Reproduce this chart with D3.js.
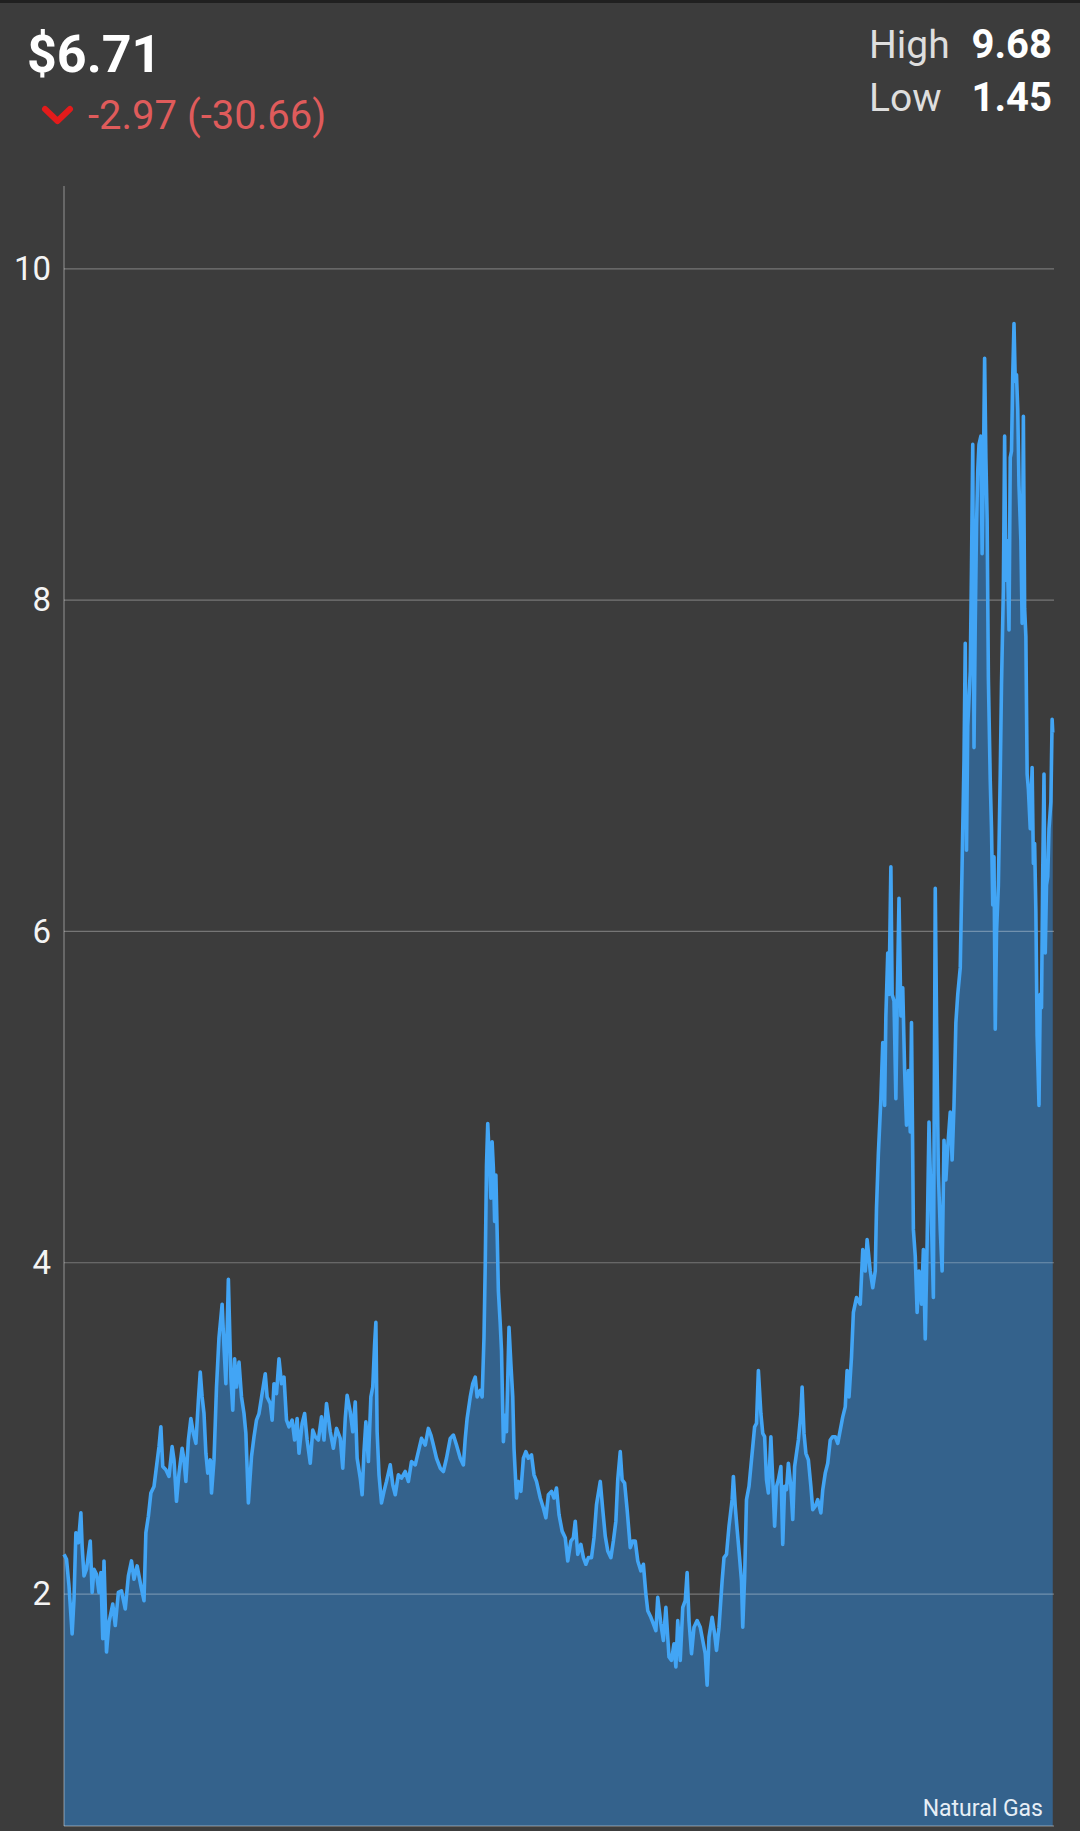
<!DOCTYPE html>
<html><head><meta charset="utf-8">
<script src="https://cdn.jsdelivr.net/npm/d3@7"></script>
<style>html,body{margin:0;padding:0;background:#3c3c3c;} svg{display:block;font-family:Roboto,'Noto Sans',sans-serif;}</style>
</head><body><svg id="c" width="1080" height="1831"></svg>
<script>
// trading-day index of each sample
const days = [0,4,8,13,16,19,23,27,29,32,36,42,45,48,52,56,59,62,64,68,72,78,82,87,92,98,103,108,112,117,123,128,131,135,139,144,148,152,155,158,163,168,173,176,180,184,189,192,195,199,203,207,211,215,218,221,224,227,230,234,236,240,244,248,253,256,259,263,267,270,273,276,280,284,288,291,295,300,304,308,312,317,322,325,330,333,336,340,344,348,352,356,360,365,369,373,376,381,385,389,394,398,402,407,412,416,420,
426,431,436,442,446,450,453,458,462,466,469,474,477,480,483,487,491,494,497,499,501,504,508,512,516,522,526,530,535,540,546,551,556,562,567,572,578,583,587,591,596,602,607,612,618,623,628,634,639,642,645,650,654,658,661,666,669,672,674,676,678,680,683,685,687,689,691,693,695,698,700,703,706,708,712,715,718,720,724,727,731,735,739,743,748,752,756,762,767,771,775,780,784,788,792,797,802,806,811,815,818,822,827,831,835,839,844,848,852,858,
862,866,870,875,879,883,886,890,893,897,901,906,910,914,918,923,927,931,934,939,943,947,950,955,959,963,968,972,976,979,982,986,990,994,997,1000,1004,1008,1013,1018,1022,1026,1029,1032,1037,1041,1044,1048,1053,1056,1060,1064,1069,1071,1074,1077,1080,1084,1086,1089,1092,1096,1101,1105,1108,1111,1115,1118,1121,1124,1127,1131,1134,1137,1140,1143,1147,1150,1153,1156,1159,1163,1166,1169,1172,1175,1179,1181,1184,1187,1191,1195,1198,1202,1206,1211,1214,1218,1222,1226,1230,1234,1238,1242,1246,1250,1253,1256,1260,
1263,1268,1274,1278,1282,1285,1290,1294,1298,1300,1303,1307,1310,1313,1315,1318,1320,1323,1325,1328,1331,1333,1336,1339,1342,1345,1348,1351,1354,1356,1359,1362,1365,1368,1372,1375,1378,1381,1384,1388,1391,1394,1396,1399,1402,1405,1408,1411,1414,1418,1421,1424,1427,1430,1434,1437,1440,1442,1444,1446,1450,1452,1454,1456,1458,1460,1462,1464,1467,1469,1471,1473,1475,1477,1479,1482,1484,1486,1488,1490,1492,1495,1498,1500,1503,1505,1507,1509,1512,1514,1516,1518,1520,1522,1524,1526,1528,1531,1533,1535,1537,1539,1541,1543,1546,1549,1551,1553,1555,1557,1560,1562,1564,1566,1568,1570,1572,1574,1576,1579,1581,1582];
// price of each sample
const prices = [2.24,2.21,2.05,1.76,1.97,2.37,2.31,2.49,2.29,2.11,2.15,2.32,2.01,2.15,2.12,2.01,2.13,1.73,2.20,1.65,1.83,1.94,1.81,2.01,2.02,1.91,2.11,2.20,2.09,2.17,2.05,1.96,2.37,2.47,2.61,2.65,2.77,2.89,3.01,2.77,2.75,2.71,2.89,2.81,2.56,2.73,2.88,2.81,2.68,2.93,3.06,2.97,2.91,3.17,3.34,3.19,3.09,2.85,2.73,2.81,2.61,2.81,3.25,3.55,3.75,3.49,3.27,3.90,3.31,3.11,3.42,3.25,3.40,3.19,3.09,2.97,2.55,2.83,2.95,3.05,3.09,3.21,3.33,3.19,3.15,3.05,3.27,3.21,3.42,3.27,3.31,3.05,3.01,3.05,2.93,3.06,2.85,3.03,3.09,2.93,2.79,2.99,2.95,2.93,3.07,2.93,3.15,
2.98,2.88,3.00,2.94,2.76,3.06,3.20,3.10,2.98,3.16,2.82,2.70,2.60,2.86,3.04,2.80,3.19,3.25,3.51,3.64,2.98,2.72,2.55,2.62,2.68,2.78,2.66,2.60,2.72,2.70,2.74,2.68,2.80,2.78,2.86,2.94,2.90,3.00,2.96,2.90,2.82,2.76,2.74,2.82,2.94,2.96,2.90,2.82,2.78,2.94,3.06,3.19,3.27,3.31,3.19,3.23,3.19,3.55,3.99,4.59,4.84,4.67,4.39,4.73,4.57,4.25,4.53,4.19,3.83,3.63,3.47,2.92,3.08,2.98,3.61,3.39,3.19,2.88,2.58,2.68,2.62,2.82,2.86,2.82,2.84,2.72,2.68,2.58,2.52,2.46,2.60,2.62,2.58,2.64,2.48,2.38,2.34,2.20,2.32,2.34,2.44,2.24,2.30,2.22,2.18,2.22,2.22,2.34,2.54,2.68,
2.51,2.35,2.26,2.22,2.32,2.44,2.69,2.86,2.69,2.67,2.51,2.28,2.32,2.32,2.20,2.14,2.18,2.00,1.90,1.86,1.82,1.78,1.98,1.82,1.72,1.92,1.62,1.60,1.70,1.56,1.84,1.60,1.92,1.96,2.13,1.84,1.64,1.80,1.84,1.80,1.72,1.64,1.45,1.74,1.86,1.76,1.66,1.80,2.08,2.22,2.24,2.41,2.57,2.71,2.53,2.39,2.26,2.08,1.80,2.10,2.57,2.65,2.85,3.01,3.03,3.35,3.09,2.97,2.95,2.69,2.61,2.95,2.69,2.41,2.65,2.69,2.77,2.30,2.65,2.63,2.79,2.65,2.45,2.77,2.85,2.93,3.09,3.25,2.97,2.85,2.81,2.65,2.51,2.53,2.57,2.49,2.63,2.73,2.79,2.93,2.95,2.95,2.91,2.99,3.07,3.13,3.35,3.19,3.43,
3.70,3.79,3.75,4.08,3.95,4.14,3.95,3.85,3.95,4.33,4.66,4.99,5.33,4.95,5.49,5.87,5.62,6.39,5.62,5.58,4.99,5.54,6.20,5.49,5.66,5.16,4.83,5.16,4.79,5.45,4.20,4.04,3.70,3.95,3.75,4.08,3.54,4.12,4.85,4.25,3.79,6.26,5.49,4.54,4.20,3.95,4.74,4.50,4.70,4.91,4.62,4.95,5.45,5.62,5.78,6.41,7.03,7.74,6.49,7.24,7.57,8.20,8.94,7.11,7.86,8.44,8.78,8.94,8.99,8.28,8.78,9.46,8.86,8.49,7.53,6.91,6.62,6.16,6.45,5.41,5.99,6.28,6.95,7.49,8.07,8.99,8.12,8.36,7.82,8.86,8.90,9.36,9.67,9.32,9.36,9.15,8.69,8.36,7.86,9.11,7.95,7.78,6.95,6.86,6.62,6.99,6.41,6.53,6.12,5.37,4.95,5.62,5.54,6.37,6.95,5.87,6.28,6.33,6.62,6.78,7.28,7.20];
const yTicks = [2,4,6,8,10];
const seriesName = "Natural Gas";
const lastPrice = 6.71, change = -2.97, changePct = -30.66, highVal = 9.68, lowVal = 1.45;

const svg = d3.select("#c");
const x = d3.scaleLinear().domain([0,1584]).range([64,1054]);
const y = d3.scaleLinear().domain([0.6,10.5]).range([1826,186]);
const data = days.map((d,i)=>({d, p: prices[i]}));

// top dark strip
svg.append("rect").attr("x",0).attr("y",0).attr("width",1080).attr("height",3).attr("fill","#202020");

// header
svg.append("text").attr("x",27).attr("y",72).attr("fill","#ffffff").attr("font-size",52).attr("font-weight","bold")
  .text("$" + lastPrice.toFixed(2));
svg.append("polyline").attr("points","45,109 57.5,121 70,109").attr("fill","none").attr("stroke","#e31b1b")
  .attr("stroke-width",6).attr("stroke-linecap","round").attr("stroke-linejoin","round");
svg.append("text").attr("x",88).attr("y",129).attr("fill","#df5b5b").attr("font-size",40)
  .text(change.toFixed(2) + " (" + changePct.toFixed(2) + ")");
svg.append("text").attr("x",869).attr("y",58).attr("fill","#dedede").attr("font-size",39).text("High");
svg.append("text").attr("x",1052).attr("y",58).attr("fill","#ffffff").attr("font-size",40).attr("font-weight","bold")
  .attr("text-anchor","end").text(highVal.toFixed(2));
svg.append("text").attr("x",869).attr("y",111).attr("fill","#dedede").attr("font-size",39).text("Low");
svg.append("text").attr("x",1052).attr("y",111).attr("fill","#ffffff").attr("font-size",40).attr("font-weight","bold")
  .attr("text-anchor","end").text(lowVal.toFixed(2));

// area
const area = d3.area().x(d=>x(d.d)).y0(y(0.6)).y1(d=>y(d.p));
svg.append("path").datum(data).attr("d",area).attr("fill","#34628c");

// gridlines
svg.append("g").selectAll("line").data(yTicks).join("line")
  .attr("x1",64).attr("x2",1054).attr("y1",d=>y(d)).attr("y2",d=>y(d))
  .attr("stroke","rgba(255,255,255,0.3)").attr("stroke-width",1.2);

// axis frame
svg.append("line").attr("x1",64).attr("x2",64).attr("y1",186).attr("y2",1826).attr("stroke","rgba(255,255,255,0.3)").attr("stroke-width",1.5);
svg.append("line").attr("x1",64).attr("x2",1054).attr("y1",1826).attr("y2",1826).attr("stroke","rgba(255,255,255,0.3)").attr("stroke-width",1.5);

// y axis labels
const yAxis = svg.append("g").attr("transform","translate(64,0)")
  .call(d3.axisLeft(y).tickValues(yTicks).tickSize(0).tickPadding(13).tickFormat(d3.format("d")));
yAxis.select(".domain").remove();
yAxis.selectAll("text").attr("fill","#f4f4f4").attr("font-size",33).attr("font-family","Roboto,'Noto Sans',sans-serif");

// line
const line = d3.line().x(d=>x(d.d)).y(d=>y(d.p));
svg.append("path").datum(data).attr("d",line).attr("fill","none").attr("stroke","#42a5f5")
  .attr("stroke-width",3.6).attr("stroke-linejoin","round");

// series label
svg.append("text").attr("x",1043).attr("y",1816).attr("text-anchor","end").attr("fill","#e6eef6").attr("font-size",23).text(seriesName);
</script></body></html>
